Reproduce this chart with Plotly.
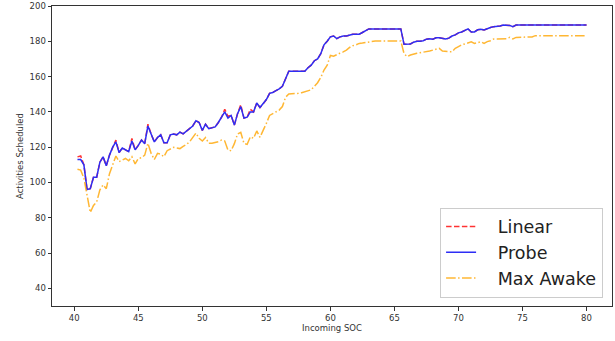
import numpy as np
import plotly.graph_objects as go

# Incoming SOC values (x)
soc = [40.25 + 0.25 * i for i in range(160)]

probe = [
    113, 113, 110, 96,
    96.5, 103, 103, 111.5,
    114.5, 109.5, 115.5, 120,
    123, 117, 119.5, 118.5,
    117.5, 123.5, 118.5, 121,
    124, 122, 132, 127.5,
    123, 125.5, 127, 122.5,
    122.5, 127, 127.5, 127,
    128.5, 127.5, 129, 130,
    132, 135, 134, 129.5,
    133, 130.5, 131, 131.5,
    134, 137, 140, 136.5,
    138, 132.5, 139, 143,
    136.5, 137, 140, 140,
    145, 142.5, 144.5, 147,
    150.5, 151, 152, 153,
    154.5, 159, 163, 163,
    163, 163, 163, 163,
    165, 166.5, 169, 170,
    173, 178, 180, 182.5,
    183, 181.5, 182.5, 183,
    183, 183.5, 184, 184,
    184, 185, 186, 187,
    187, 187, 187, 187,
    187, 187, 187, 187,
    187, 187, 178.3, 178.3,
    178.5, 179.5, 180, 180,
    180.3, 181.2, 181.5, 181.2,
    182, 182, 181.5, 181.3,
    181.8, 183, 183.6, 184.8,
    185.3, 186, 187, 185.3,
    185.3, 186.5, 186.8, 186.4,
    187.2, 187.8, 188.3, 188.3,
    188.7, 189.2, 189.2, 189,
    188.3, 189.2, 189.2, 189.2,
    189.2, 189.2, 189.2, 189.2,
    189.2, 189.2, 189.2, 189.2,
    189.2, 189.2, 189.2, 189.2,
    189.2, 189.2, 189.2, 189.2,
    189.2, 189.2, 189.2, 189.2,
]

max_awake = [
    107.5, 107, 102.5, 92,
    83, 87, 89, 95.8,
    98.6, 96.5, 105, 110,
    115, 111.8, 112.7, 113.6,
    112.3, 114.6, 110.5, 113.6,
    114, 115.5, 122.2, 116.5,
    113, 116.5, 116, 114.6,
    118, 119.2, 119.9, 119.5,
    119.2, 120.5, 121.5, 123,
    125.5, 128, 125, 123.5,
    125.5, 122.2, 122.2, 122.5,
    123.1, 124, 123.5, 118.4,
    118, 122, 127.5, 128.4,
    122.2, 121.6, 125.9, 125,
    129.2, 125.6, 129.2, 133.5,
    138, 139, 139.7, 141,
    143, 148.3, 150.1, 150.1,
    150.1, 150.5, 150.9, 151.3,
    151.8, 152.5, 154.5, 156.5,
    159.5, 163.7, 166.5, 172,
    171.5, 172.5, 173.3, 174,
    175, 176.5, 177.5, 178,
    178.8, 179, 179.3, 180,
    180.2, 180.2, 180.2, 180.2,
    180.2, 180.2, 180.2, 180.2,
    180.2, 180.2, 173, 171.3,
    172.2, 172.8, 173.2, 173.5,
    173.7, 174, 174.5, 175,
    175.5, 176, 174.5, 174.1,
    174.1, 174.1, 176, 177,
    178, 178.5, 179, 179.7,
    178.8, 179.3, 179.7, 178.8,
    179.8, 180.3, 181.3, 181.3,
    181.3, 181.3, 181.5, 182.2,
    181.3, 182.2, 182.2, 182.2,
    182.2, 182.2, 182.5, 183.2,
    183.2, 183.2, 183.2, 183.2,
    183.2, 183.2, 183.2, 183.2,
    183.2, 183.2, 183.2, 183.2,
    183.2, 183.2, 183.2, 183.2,
]

# Linear mostly coincides with Probe; differences
linear = list(probe)
linear_diffs = {0: 114.5, 1: 115, 12: 124, 17: 125, 22: 133, 46: 141.5,
                47: 137.5, 51: 144, 54: 141.5}
for k, v in linear_diffs.items():
    linear[k] = v

x_ticks = [40, 45, 50, 55, 60, 65, 70, 75, 80]
y_ticks = [40, 60, 80, 100, 120, 140, 160, 180, 200]

FONT = "DejaVu Sans"
NB = "\u00a0\u00a0\u00a0"

fig = go.Figure()
fig.add_trace(go.Scatter(x=soc, y=linear, mode="lines", name=NB + "Linear",
                         line=dict(color="rgba(255,0,0,0.8)", width=1.5,
                                   dash="5.5px,2.4px")))
fig.add_trace(go.Scatter(x=soc, y=probe, mode="lines", name=NB + "Probe",
                         line=dict(color="rgb(45,45,245)", width=1.5)))
fig.add_trace(go.Scatter(x=soc, y=max_awake, mode="lines", name=NB + "Max Awake",
                         line=dict(color="rgba(255,165,0,0.8)", width=1.5,
                                   dash="9.6px,2.4px,1.5px,2.4px")))

axis_common = dict(showgrid=False, zeroline=False, showline=True, mirror=True,
                   linecolor="#333333", linewidth=1, ticks="outside", ticklen=3.5,
                   tickwidth=0.8, tickcolor="#333333", automargin=False,
                   tickfont=dict(family=FONT, size=8.5, color="#333333"))

fig.update_layout(
    width=615, height=341,
    margin=dict(l=52, r=3, t=6, b=35),
    paper_bgcolor="white", plot_bgcolor="white",
    font=dict(family=FONT, color="#333333"),
    xaxis=dict(range=[38.26, 81.99], tickvals=x_ticks, **axis_common),
    yaxis=dict(range=[30, 200], tickvals=y_ticks, **axis_common),
    legend=dict(x=0.693, y=0.028, xanchor="left", yanchor="bottom",
                bgcolor="rgba(255,255,255,0.8)", bordercolor="#cccccc", borderwidth=1,
                font=dict(family=FONT, size=17.5, color="#222222"),
                tracegroupgap=0, itemwidth=30),
    showlegend=True,
    annotations=[
        dict(text="Incoming SOC", xref="paper", yref="paper", x=0.5, y=0,
             yshift=-22, xanchor="center", yanchor="middle", showarrow=False,
             font=dict(family=FONT, size=8.5, color="#333333")),
        dict(text="Activities Scheduled", xref="paper", yref="paper", x=0, y=0.5,
             xshift=-32, xanchor="center", yanchor="middle", showarrow=False,
             textangle=-90, font=dict(family=FONT, size=8.5, color="#333333")),
    ],
)

fig.write_html("out.html", config={"displayModeBar": False},
               post_script="document.body.style.margin='0';")
